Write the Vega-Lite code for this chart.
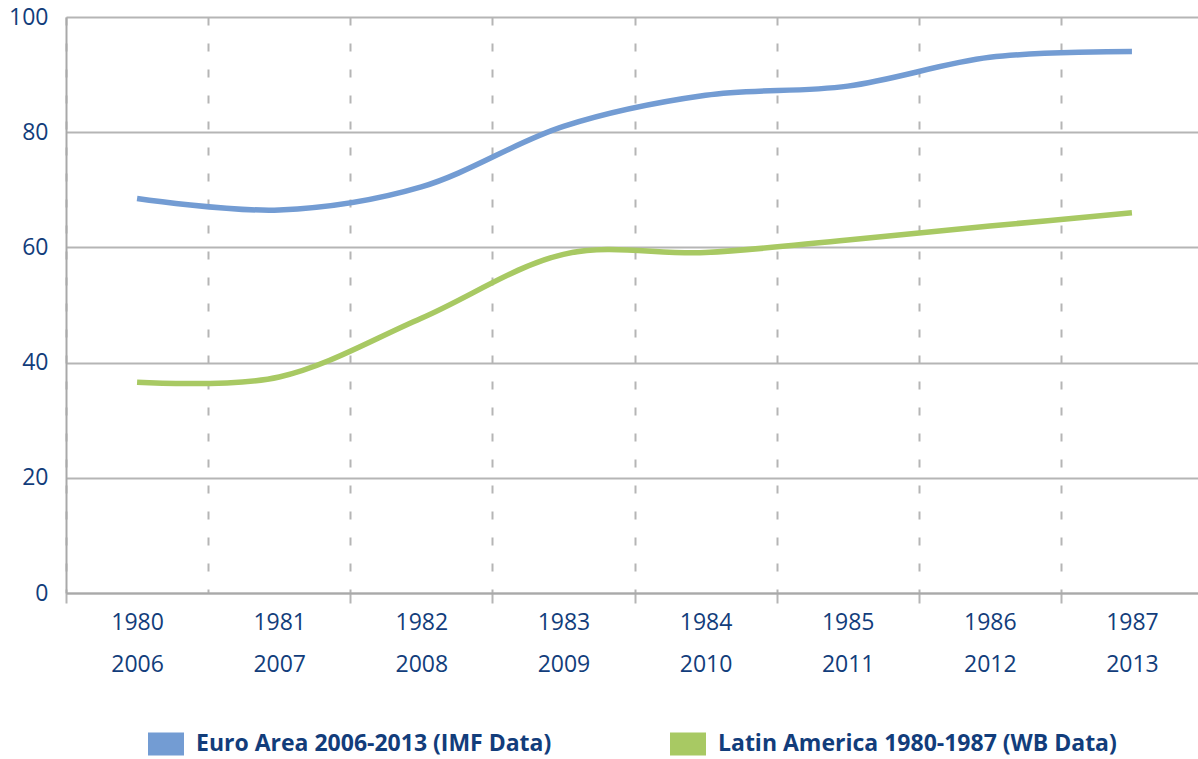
{
  "$schema": "https://vega.github.io/schema/vega-lite/v6.json",
  "width": 1137,
  "height": 576,
  "autosize": {"type": "none"},
  "padding": {"left": 66, "top": 17, "right": 0, "bottom": 166},
  "background": "white",
  "data": {
    "values": [
      {"period": "1980|2006", "series": "Euro Area 2006-2013 (IMF Data)", "value": 68.5},
      {"period": "1981|2007", "series": "Euro Area 2006-2013 (IMF Data)", "value": 66.5},
      {"period": "1982|2008", "series": "Euro Area 2006-2013 (IMF Data)", "value": 70.5},
      {"period": "1983|2009", "series": "Euro Area 2006-2013 (IMF Data)", "value": 81.0},
      {"period": "1984|2010", "series": "Euro Area 2006-2013 (IMF Data)", "value": 86.4},
      {"period": "1985|2011", "series": "Euro Area 2006-2013 (IMF Data)", "value": 88.0},
      {"period": "1986|2012", "series": "Euro Area 2006-2013 (IMF Data)", "value": 93.0},
      {"period": "1987|2013", "series": "Euro Area 2006-2013 (IMF Data)", "value": 94.0},
      {"period": "1980|2006", "series": "Latin America 1980-1987 (WB Data)", "value": 36.6},
      {"period": "1981|2007", "series": "Latin America 1980-1987 (WB Data)", "value": 37.5},
      {"period": "1982|2008", "series": "Latin America 1980-1987 (WB Data)", "value": 47.7},
      {"period": "1983|2009", "series": "Latin America 1980-1987 (WB Data)", "value": 58.8},
      {"period": "1984|2010", "series": "Latin America 1980-1987 (WB Data)", "value": 59.1},
      {"period": "1985|2011", "series": "Latin America 1980-1987 (WB Data)", "value": 61.3},
      {"period": "1986|2012", "series": "Latin America 1980-1987 (WB Data)", "value": 63.7},
      {"period": "1987|2013", "series": "Latin America 1980-1987 (WB Data)", "value": 66.0}
    ]
  },
  "mark": {"type": "line", "interpolate": "cardinal", "strokeWidth": 5.5, "strokeCap": "butt"},
  "encoding": {
    "x": {
      "field": "period",
      "type": "ordinal",
      "sort": null,
      "scale": {"type": "band", "paddingInner": 0, "paddingOuter": 0},
      "axis": {
        "title": null,
        "domain": true,
        "domainColor": "#a9a9a9",
        "domainWidth": 2,
        "tickBand": "extent",
        "ticks": true,
        "tickSize": 10,
        "tickWidth": 2,
        "tickColor": {"condition": {"test": "datum.index == 0", "value": "transparent"}, "value": "#b5b5b5"},
        "grid": true,
        "gridColor": "#b5b5b5",
        "gridWidth": 2,
        "gridDash": [8, 18],
        "labelExpr": "split(datum.label, '|')",
        "labelAngle": 0,
        "labelFont": "Open Sans",
        "labelFontSize": 23,
        "labelColor": "#123d7b",
        "labelLineHeight": 42,
        "labelPadding": 8
      }
    },
    "y": {
      "field": "value",
      "type": "quantitative",
      "scale": {"domain": [0, 100], "nice": false},
      "axis": {
        "title": null,
        "values": [0, 20, 40, 60, 80, 100],
        "domain": true,
        "domainColor": "#a9a9a9",
        "domainWidth": 2,
        "ticks": false,
        "grid": true,
        "gridColor": "#b5b5b5",
        "gridWidth": 2,
        "labelPadding": 18,
        "labelFont": "Open Sans",
        "labelFontSize": 23,
        "labelColor": "#123d7b"
      }
    },
    "color": {
      "field": "series",
      "type": "nominal",
      "scale": {
        "domain": ["Euro Area 2006-2013 (IMF Data)", "Latin America 1980-1987 (WB Data)"],
        "range": ["#739cd3", "#a8c963"]
      },
      "legend": {
        "title": null,
        "orient": "none",
        "direction": "horizontal",
        "legendX": 82,
        "legendY": 709,
        "padding": 0,
        "symbolType": "M-1,-0.64H1V0.64H-1Z",
        "symbolSize": 1296,
        "symbolStrokeWidth": 0,
        "columnPadding": 118,
        "labelOffset": 12,
        "labelLimit": 1000,
        "labelFont": "Open Sans",
        "labelFontWeight": "bold",
        "labelFontSize": 23,
        "labelColor": "#123d7b",
        "encode": {
          "symbols": {"update": {"fill": {"scale": "color", "field": "value"}, "strokeWidth": {"value": 0}}}
        }
      }
    }
  },
  "config": {"view": {"stroke": null}}
}
